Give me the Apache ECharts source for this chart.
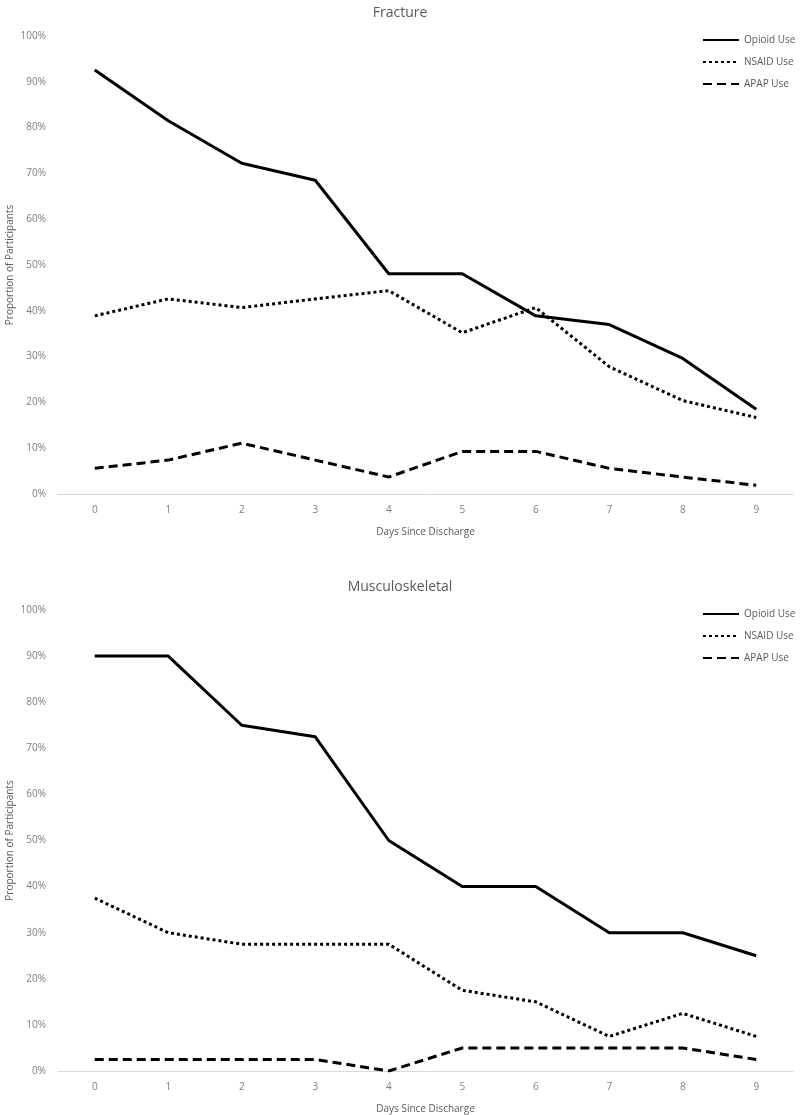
<!DOCTYPE html>
<html>
<head>
<meta charset="utf-8">
<script src="https://cdn.jsdelivr.net/npm/echarts@6/dist/echarts.min.js"></script>
<style>html,body{margin:0;padding:0;background:#fff}#c{width:800px;height:1115px}</style>
</head>
<body>
<div id="c"></div>
<script>
const days = ['0','1','2','3','4','5','6','7','8','9'];
const yTicks = [0,10,20,30,40,50,60,70,80,90,100];
// Fracture (percent)
const fracOpioid = [92.6, 81.5, 72.2, 68.5, 48.1, 48.1, 38.9, 37.0, 29.6, 18.5];
const fracNSAID  = [38.9, 42.6, 40.7, 42.6, 44.4, 35.2, 40.7, 27.8, 20.4, 16.7];
const fracAPAP   = [5.6, 7.4, 11.1, 7.4, 3.7, 9.3, 9.3, 5.6, 3.7, 1.9];
// Musculoskeletal (percent)
const muscOpioid = [90, 90, 75, 72.5, 50, 40, 40, 30, 30, 25];
const muscNSAID  = [37.5, 30, 27.5, 27.5, 27.5, 17.5, 15, 7.5, 12.5, 7.5];
const muscAPAP   = [2.5, 2.5, 2.5, 2.5, 0, 5, 5, 5, 5, 2.5];

const FONT = '"Open Sans", "Liberation Sans", sans-serif';
const grey = '#7f7f7f';
const styles = {
  'Opioid Use': {color:'#000', width:3, type:'solid'},
  'NSAID Use': {color:'#000', width:3, type:[3,3]},
  'APAP Use': {color:'#000', width:3, type:[9,5]}
};
function mkSeries(name, data, idx){
  return {name, type:'line', data, xAxisIndex:idx, yAxisIndex:idx, symbol:'none', showSymbol:false,
    lineStyle:Object.assign({cap:'butt', join:'round'}, styles[name]), itemStyle:{color:'#000'}, z:3, silent:true, animation:false};
}
function xAx(idx){
  return {type:'category', gridIndex:idx, data:days, boundaryGap:true,
    axisLine:{show:true, lineStyle:{color:'#d9d9d9', width:1}}, axisTick:{show:false},
    axisLabel:{color:grey, fontSize:10, fontFamily:FONT, margin:11},
    name:'Days Since Discharge', nameLocation:'middle', nameGap:33, nameMoveOverlap:false,
    nameTextStyle:{color:'#595959', fontSize:10, fontFamily:FONT}};
}
function yAx(idx){
  return {type:'value', gridIndex:idx, min:yTicks[0], max:yTicks[yTicks.length-1], interval:10,
    splitLine:{show:false}, axisLine:{show:false}, axisTick:{show:false},
    axisLabel:{color:grey, fontSize:10, fontFamily:FONT, margin:12, formatter:'{value}%'},
    name:'Proportion of Participants', nameLocation:'middle', nameGap:43, nameRotate:90, nameMoveOverlap:false,
    nameTextStyle:{color:'#595959', fontSize:10, fontFamily:FONT}};
}
function legend(top){
  return {orient:'vertical', left:702, top, itemWidth:36, itemHeight:12, itemGap:12,
    width:100, padding:0,
    itemStyle:{opacity:0},
    data:['Opioid Use','NSAID Use','APAP Use'],
    textStyle:{color:'#595959', fontSize:10, fontFamily:FONT, overflow:'none'}, selectedMode:false};
}
const chart = echarts.init(document.getElementById('c'), null, {renderer:'canvas'});
chart.setOption({
  backgroundColor:'#fff',
  animation:false,
  title:[
    {text:'Fracture', left:'center', top:1, textStyle:{color:'#595959', fontSize:14, fontWeight:'normal', fontFamily:FONT}},
    {text:'Musculoskeletal', left:'center', top:575, textStyle:{color:'#595959', fontSize:14, fontWeight:'normal', fontFamily:FONT}}
  ],
  legend:[legend(35), legend(609)],
  grid:[
    {left:58, right:7, top:36, height:458, outerBoundsMode:'none', containLabel:false},
    {left:58, right:7, top:610, height:461, outerBoundsMode:'none', containLabel:false}
  ],
  xAxis:[xAx(0), xAx(1)],
  yAxis:[yAx(0), yAx(1)],
  series:[
    mkSeries('Opioid Use', fracOpioid, 0),
    mkSeries('NSAID Use', fracNSAID, 0),
    mkSeries('APAP Use', fracAPAP, 0),
    mkSeries('Opioid Use', muscOpioid, 1),
    mkSeries('NSAID Use', muscNSAID, 1),
    mkSeries('APAP Use', muscAPAP, 1)
  ]
});
</script>
</body>
</html>
